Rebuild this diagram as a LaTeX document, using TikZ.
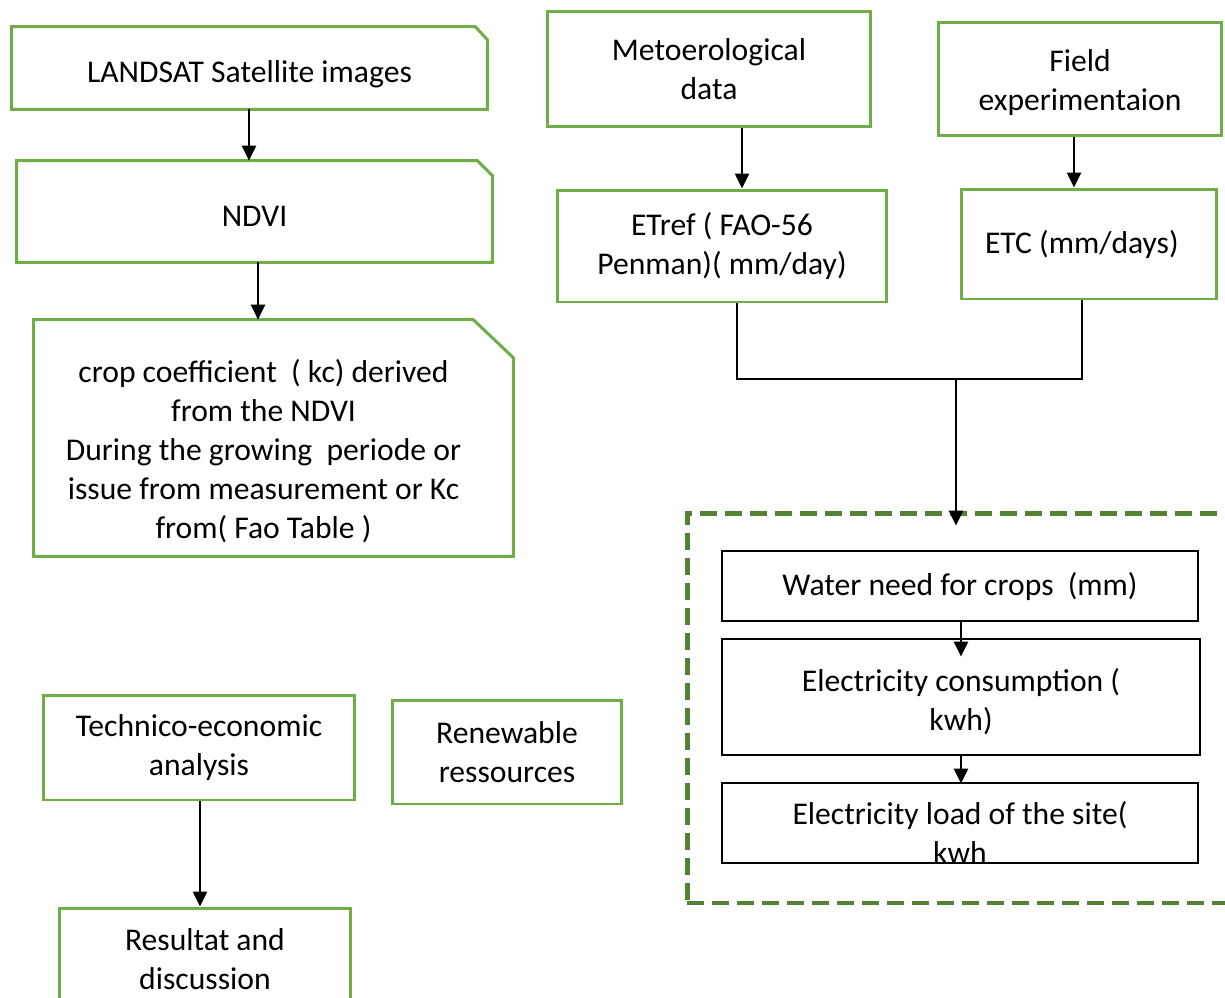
\documentclass[tikz,border=0pt]{standalone}
\usepackage{fontspec}
\setmainfont{Carlito}
\usetikzlibrary{arrows.meta}
\definecolor{boxgreen}{HTML}{70AD47}
\definecolor{dashgreen}{HTML}{548235}
\tikzset{
  gbox/.style={draw=boxgreen, line width=1.7pt, align=center, inner sep=0pt},
  sbox/.style={align=center, inner sep=0pt},
  gline/.style={draw=boxgreen, line width=1.7pt},
  kbox/.style={draw=black, line width=1.6pt, align=center, inner sep=0pt},
  dbox/.style={draw=dashgreen, line width=2.8pt, dash pattern=on 0.34cm off 0.16cm},
  link/.style={line width=1.4pt},
  flow/.style={link, -{Triangle[length=0.3cm,width=0.28cm]}},
}
\begin{document}
\begin{tikzpicture}[x=0.02cm, y=-0.02cm, font=\fontsize{18}{22.2}\selectfont]
  \useasboundingbox (0,0) rectangle (1225,998);
  % left column
  \node[sbox, minimum width=9.5cm, minimum height=1.64cm] (landsat) at (249.5,68) {\smash{\raisebox{-0.28cm}{LANDSAT Satellite images}}};
  \node[sbox, minimum width=9.5cm, minimum height=2.02cm] (ndvi) at (254.5,211.5) {\smash{\raisebox{-0.29cm}{NDVI}}};
  \node[sbox, minimum width=9.58cm, minimum height=4.72cm] (kc) at (273.5,438)
    {\smash{\raisebox{-0.44cm}{\begin{tabular}{@{}c@{}}crop coefficient~ ( kc) derived\\from the NDVI\\During the growing~ periode or\\issue from measurement or Kc\\from( Fao Table )\end{tabular}}}\hspace*{0.4cm}};
  \draw[gline] (landsat.south west) -- (landsat.north west) -- ([xshift=-0.24cm]landsat.north east)
    -- ([yshift=-0.26cm]landsat.north east) -- (landsat.south east) -- cycle;
  \draw[gline] (ndvi.south west) -- (ndvi.north west) -- ([xshift=-0.3cm]ndvi.north east)
    -- ([yshift=-0.3cm]ndvi.north east) -- (ndvi.south east) -- cycle;
  \draw[gline] (kc.south west) -- (kc.north west) -- ([xshift=-0.8cm]kc.north east)
    -- ([yshift=-0.76cm]kc.north east) -- (kc.south east) -- cycle;
  % right column
  \node[gbox, minimum width=6.48cm, minimum height=2.32cm] (met) at (709,69) {Metoerological\\data};
  \node[gbox, minimum width=5.68cm, minimum height=2.28cm] (field) at (1080,79) {\smash{\raisebox{-0.24cm}{\begin{tabular}{@{}c@{}}Field\\experimentaion\end{tabular}}}};
  \node[gbox, minimum width=6.6cm, minimum height=2.24cm] (etref) at (722,246) {ETref ( FAO-56\\Penman)( mm/day)};
  \node[gbox, minimum width=5.12cm, minimum height=2.2cm] (etc) at (1089,244) {ETC (mm/days)~~};
  % site block
  \node[dbox, minimum width=10.9cm, minimum height=7.8cm] (site) at (959.5,708) {};
  \node[kbox, minimum width=9.52cm, minimum height=1.4cm] (water) at (960,586) {Water need for crops~ (mm)};
  \node[kbox, minimum width=9.56cm, minimum height=2.32cm] (elec) at (961,697) {\smash{\raisebox{-0.28cm}{\begin{tabular}{@{}c@{}}Electricity consumption (\\kwh)\end{tabular}}}};
  \node[kbox, minimum width=9.52cm, minimum height=1.6cm] (load) at (960,823)
    {\smash{\raisebox{-0.42cm}{\begin{tabular}{@{}c@{}}Electricity load of the site(\\kwh\end{tabular}}}};
  % bottom
  \node[gbox, minimum width=6.24cm, minimum height=2.1cm] (tech) at (199,747.5) {Technico-economic\\analysis};
  \node[gbox, minimum width=4.6cm, minimum height=2.08cm] (renew) at (507,752) {Renewable\\ressources};
  \node[gbox, minimum width=5.84cm, minimum height=2.04cm] (result) at (205,959) {Resultat and\\discussion};

  \coordinate (jl) at (737,379);
  \coordinate (jr) at (1082,379);
  \coordinate (jm) at (956,379);

  \draw[flow] (landsat.south -| 249,0) -- (ndvi.north -| 249,0);
  \draw[flow] (ndvi.south -| 258,0) -- (kc.north -| 258,0);
  \draw[flow] (met.south -| 742,0) -- (etref.north -| 742,0);
  \draw[flow] (field.south -| 1074,0) -- (etc.north -| 1074,0);
  \draw[link] (etref.south -| jl) -- (jl) -- (jr) -- (etc.south -| jr);
  \draw[flow, shorten >=-0.3cm] (jm) -- (jm |- site.north);
  \draw[flow, shorten >=-0.38cm] (water.south -| 961,0) -- (elec.north -| 961,0);
  \draw[flow, shorten >=-0.04cm] (elec.south -| 961,0) -- (load.north -| 961,0);
  \draw[flow] (tech.south -| 200,0) -- (result.north -| 200,0);
\end{tikzpicture}
\end{document}
